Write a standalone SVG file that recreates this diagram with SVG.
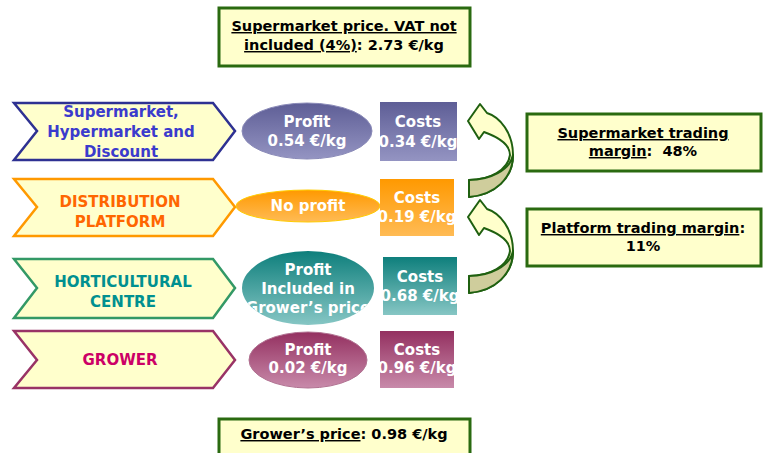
<svg xmlns="http://www.w3.org/2000/svg" width="764" height="453" viewBox="0 0 764 453">
<defs>
<style>
text{font-family:"DejaVu Sans","Liberation Sans",sans-serif;font-weight:bold;}
.chev{fill:#ffffcc;stroke-width:2.5;}
.ct{font-size:15px;text-anchor:middle;}
.wt{font-size:15px;fill:#ffffff;text-anchor:middle;}
.box{fill:#ffffcc;stroke:#2a6a10;stroke-width:3;}
.bt{font-size:14.5px;fill:#000000;text-anchor:middle;}
.u{text-decoration:underline;}
.arr{stroke:#1f6010;stroke-width:2;stroke-linejoin:round;}
</style>
<linearGradient id="gBlue" x1="0" y1="0" x2="0" y2="1"><stop offset="0" stop-color="#5e5e96"/><stop offset="1" stop-color="#9494c2"/></linearGradient>
<linearGradient id="gOr" x1="0" y1="0" x2="0" y2="1"><stop offset="0" stop-color="#ff9900"/><stop offset="1" stop-color="#ffbb55"/></linearGradient>
<linearGradient id="gTeal" x1="0" y1="0" x2="0" y2="1"><stop offset="0" stop-color="#0e7f7c"/><stop offset="1" stop-color="#86c6c4"/></linearGradient>
<linearGradient id="gPlum" x1="0" y1="0" x2="0" y2="1"><stop offset="0" stop-color="#943060"/><stop offset="1" stop-color="#c88aaa"/></linearGradient>
<clipPath id="cpC1"><rect x="380" y="102" width="77" height="59"/></clipPath>
<clipPath id="cpC2"><rect x="380" y="179" width="74" height="57"/></clipPath>
<clipPath id="cpC3"><rect x="383" y="257" width="74" height="58"/></clipPath>
<clipPath id="cpC4"><rect x="380" y="331" width="74" height="57"/></clipPath>
<clipPath id="cpE3"><ellipse cx="308" cy="288" rx="66" ry="37"/></clipPath>
<clipPath id="cpS"><rect x="0" y="0" width="240" height="160"/></clipPath>
</defs>
<rect width="764" height="453" fill="#ffffff"/>

<g id="connectors">
<g id="arrow1">
<path class="arr" fill="#ffffcc" d="M469,197 C495,195 513,178 513,155 C513,133 500,117 487,113 L480,104 L468,121 L479,139 L484,132 C498,137 510,145 510,155 C508,170 490,180 469,180 Z"/>
<path class="arr" fill="#cfcd9c" d="M469,197 C495,195 513,178 513,155 C510,170 490,180 469,180 Z"/>
</g>
<g id="arrow2" transform="translate(0,96)">
<path class="arr" fill="#ffffcc" d="M469,197 C495,195 513,178 513,155 C513,133 500,117 487,113 L480,104 L468,121 L479,139 L484,132 C498,137 510,145 510,155 C508,170 490,180 469,180 Z"/>
<path class="arr" fill="#cfcd9c" d="M469,197 C495,195 513,178 513,155 C510,170 490,180 469,180 Z"/>
</g>
</g>

<g id="top-price">
<rect class="box" x="219" y="8" width="251" height="58"/>
<text class="bt" x="344" y="31"><tspan class="u">Supermarket price. VAT not</tspan></text>
<text class="bt" x="344" y="50"><tspan class="u">included (4%)</tspan>: 2.73 €/kg</text>
</g>

<g id="supermarket">
<path class="chev" stroke="#2e3192" d="M14,103 L213,103 L235,131 L213,160 L14,160 L37,131 Z"/>
<g clip-path="url(#cpS)">
<text class="ct" fill="#3b3bcc" x="121" y="117">Supermarket,</text>
<text class="ct" fill="#3b3bcc" x="121" y="137">Hypermarket and</text>
<text class="ct" fill="#3b3bcc" x="121" y="157">Discount</text>
</g>
</g>
<g id="supermarket-profit">
<ellipse cx="307" cy="131" rx="65" ry="28" fill="url(#gBlue)" stroke="#8a8ab8" stroke-width="1"/>
<text class="wt" x="307" y="127">Profit</text>
<text class="wt" x="307" y="146">0.54 €/kg</text>
</g>
<g id="supermarket-costs">
<rect x="380" y="102" width="77" height="59" fill="url(#gBlue)"/>
<g clip-path="url(#cpC1)">
<text class="wt" x="418" y="127">Costs</text>
<text class="wt" x="418" y="147">0.34 €/kg</text>
</g>
</g>

<g id="platform">
<path class="chev" stroke="#ff9900" d="M14,179 L213,179 L235,207 L213,236 L14,236 L37,207 Z"/>
<text class="ct" fill="#ff6600" x="120" y="207">DISTRIBUTION</text>
<text class="ct" fill="#ff6600" x="120" y="227">PLATFORM</text>
</g>
<g id="platform-profit">
<ellipse cx="308" cy="206" rx="72" ry="16" fill="url(#gOr)" stroke="#ffcc00" stroke-width="1"/>
<text class="wt" x="308" y="211">No profit</text>
</g>
<g id="platform-costs">
<rect x="380" y="179" width="74" height="57" fill="url(#gOr)"/>
<g clip-path="url(#cpC2)">
<text class="wt" x="417" y="203">Costs</text>
<text class="wt" x="417" y="222">0.19 €/kg</text>
</g>
</g>

<g id="horticultural">
<path class="chev" stroke="#339966" d="M14,259 L213,259 L235,288 L213,318 L14,318 L37,288 Z"/>
<text class="ct" fill="#009090" x="123" y="287">HORTICULTURAL</text>
<text class="ct" fill="#009090" x="123" y="307">CENTRE</text>
</g>
<g id="horticultural-profit">
<ellipse cx="308" cy="288" rx="66" ry="37" fill="url(#gTeal)"/>
<g clip-path="url(#cpE3)">
<text class="wt" x="308" y="275">Profit</text>
<text class="wt" x="308" y="294">Included in</text>
<text class="wt" x="308" y="313">Grower’s price</text>
</g>
</g>
<g id="horticultural-costs">
<rect x="383" y="257" width="74" height="58" fill="url(#gTeal)"/>
<g clip-path="url(#cpC3)">
<text class="wt" x="420" y="282">Costs</text>
<text class="wt" x="420" y="301">0.68 €/kg</text>
</g>
</g>

<g id="grower">
<path class="chev" stroke="#993366" d="M14,331 L213,331 L235,360 L213,388 L14,388 L37,360 Z"/>
<text class="ct" fill="#cc0066" x="120" y="365">GROWER</text>
</g>
<g id="grower-profit">
<ellipse cx="308" cy="360" rx="59" ry="28" fill="url(#gPlum)" stroke="#b07090" stroke-width="1"/>
<text class="wt" x="308" y="355">Profit</text>
<text class="wt" x="308" y="373">0.02 €/kg</text>
</g>
<g id="grower-costs">
<rect x="380" y="331" width="74" height="57" fill="url(#gPlum)"/>
<g clip-path="url(#cpC4)">
<text class="wt" x="417" y="355">Costs</text>
<text class="wt" x="417" y="373">0.96 €/kg</text>
</g>
</g>

<g id="supermarket-margin">
<rect class="box" x="527" y="114" width="234" height="57"/>
<text class="bt" x="643" y="138"><tspan class="u">Supermarket trading</tspan></text>
<text class="bt" x="643" y="156"><tspan class="u">margin</tspan>:&#160; 48%</text>
</g>

<g id="platform-margin">
<rect class="box" x="527" y="209" width="234" height="57"/>
<text class="bt" x="643" y="233"><tspan class="u">Platform trading margin</tspan>:</text>
<text class="bt" x="643" y="251">11%</text>
</g>

<g id="grower-price">
<rect class="box" x="219" y="419" width="251" height="40"/>
<text class="bt" x="344" y="439"><tspan class="u">Grower’s price</tspan>: 0.98 €/kg</text>
</g>
</svg>
